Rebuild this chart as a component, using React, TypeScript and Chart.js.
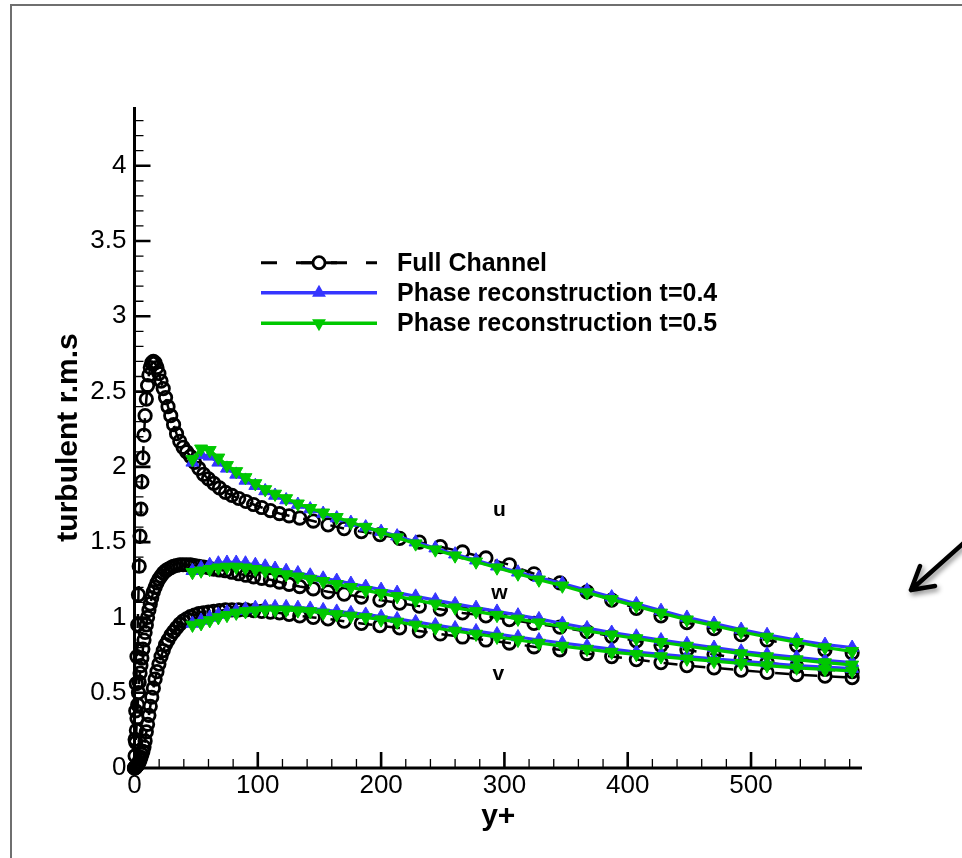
import React, { useEffect, useRef } from "react";
import { Chart, registerables } from "chart.js";

Chart.register(...registerables);

// ---------- data ----------
const FULL_YPLUS = [
  0, 0.5, 1, 1.5, 2, 2.6, 3.2, 3.8, 4.5, 5.2, 6, 6.8, 7.7, 8.6, 9.6, 10.6, 11.7, 12.8, 14, 15.3,
  16.7, 18.2, 19.8, 21.5, 23.3, 25.2, 27.2, 29.4, 31.7, 34.1, 36.7, 39.4, 42.3, 45.4, 48.7, 52.2,
  56, 60, 64.3, 68.9, 73.8, 79, 84.5, 90.4, 96.6, 103.2, 110.2, 117.6, 125.4, 134, 145, 157, 170,
  184, 199, 215, 231, 248, 266, 285, 304, 324, 345, 367, 387, 407, 427, 448, 470, 492, 513, 537,
  560, 582,
];
const FULL_U = [
  0, 0.19, 0.38, 0.56, 0.74, 0.95, 1.15, 1.34, 1.54, 1.72, 1.9, 2.06, 2.21, 2.34, 2.45, 2.54, 2.61,
  2.66, 2.69, 2.7, 2.69, 2.66, 2.62, 2.57, 2.52, 2.46, 2.4, 2.34, 2.28, 2.22, 2.17, 2.13, 2.1,
  2.07, 2.03, 1.99, 1.95, 1.92, 1.89, 1.86, 1.83, 1.81, 1.79, 1.77, 1.75, 1.73, 1.71, 1.69, 1.675,
  1.66, 1.64, 1.615, 1.59, 1.57, 1.55, 1.525, 1.5, 1.47, 1.435, 1.395, 1.35, 1.29, 1.23, 1.17,
  1.115, 1.06, 1.01, 0.965, 0.925, 0.885, 0.85, 0.815, 0.785, 0.765,
];
const FULL_W = [
  0, 0.08, 0.17, 0.25, 0.33, 0.42, 0.5, 0.57, 0.63, 0.68, 0.73, 0.79, 0.85, 0.9, 0.95, 1.0, 1.05,
  1.09, 1.13, 1.17, 1.2, 1.23, 1.255, 1.275, 1.295, 1.31, 1.32, 1.33, 1.34, 1.345, 1.35, 1.35,
  1.35, 1.35, 1.345, 1.34, 1.335, 1.33, 1.32, 1.315, 1.31, 1.3, 1.29, 1.28, 1.27, 1.26, 1.25,
  1.235, 1.22, 1.205, 1.19, 1.17, 1.155, 1.135, 1.115, 1.095, 1.075, 1.055, 1.03, 1.01, 0.985,
  0.96, 0.935, 0.905, 0.875, 0.845, 0.815, 0.785, 0.755, 0.725, 0.7, 0.675, 0.655, 0.64,
];
const FULL_V = [
  0, 0, 0.005, 0.01, 0.015, 0.02, 0.03, 0.04, 0.055, 0.07, 0.09, 0.11, 0.14, 0.18, 0.24, 0.29,
  0.35, 0.41, 0.47, 0.53, 0.59, 0.64, 0.69, 0.74, 0.78, 0.82, 0.85, 0.88, 0.905, 0.93, 0.955,
  0.975, 0.99, 1.005, 1.015, 1.025, 1.03, 1.035, 1.04, 1.045, 1.05, 1.05, 1.05, 1.05, 1.045,
  1.04, 1.035, 1.03, 1.02, 1.01, 1.0, 0.99, 0.975, 0.96, 0.945, 0.93, 0.91, 0.89, 0.87, 0.85,
  0.83, 0.805, 0.785, 0.76, 0.74, 0.72, 0.7, 0.68, 0.665, 0.65, 0.635, 0.62, 0.61, 0.6,
];

const PHASE_YPLUS = [
  47, 54, 61, 68, 75, 82.5, 90, 98, 106, 114, 123, 132.5, 142.5, 153, 164, 175.5, 187.5, 200, 213,
  228, 244, 260, 277, 294, 311, 328, 347, 367, 387, 407, 427, 448, 470, 492, 513, 537, 560, 582,
];
const T04_U = [
  2.03, 2.08, 2.07, 2.03, 1.99, 1.95, 1.91, 1.875, 1.84, 1.81, 1.78, 1.75, 1.72, 1.69, 1.66, 1.63,
  1.6, 1.57, 1.54, 1.5, 1.46, 1.42, 1.38, 1.34, 1.3, 1.265, 1.225, 1.18, 1.135, 1.09, 1.045, 1.0,
  0.96, 0.92, 0.885, 0.85, 0.82, 0.8,
];
const T04_W = [
  1.31, 1.33, 1.35, 1.36, 1.365, 1.365, 1.36, 1.35, 1.34, 1.325, 1.31, 1.295, 1.28, 1.26, 1.245,
  1.225, 1.205, 1.185, 1.165, 1.14, 1.115, 1.09, 1.065, 1.04, 1.015, 0.99, 0.96, 0.93, 0.9, 0.875,
  0.85, 0.825, 0.8, 0.775, 0.755, 0.735, 0.715, 0.7,
];
const T04_V = [
  0.96, 0.98, 1.0, 1.02, 1.035, 1.045, 1.055, 1.065, 1.07, 1.07, 1.07, 1.065, 1.06, 1.05, 1.04,
  1.03, 1.02, 1.005, 0.99, 0.97, 0.95, 0.93, 0.91, 0.89, 0.87, 0.85, 0.83, 0.81, 0.79, 0.77, 0.755,
  0.74, 0.725, 0.71, 0.695, 0.68, 0.67, 0.66,
];
const T05_U = [
  2.05, 2.12, 2.11, 2.06, 2.01, 1.97, 1.93, 1.89, 1.85, 1.82, 1.79, 1.755, 1.725, 1.695, 1.665,
  1.63, 1.6, 1.565, 1.53, 1.49, 1.45, 1.41, 1.37, 1.33, 1.29, 1.25, 1.21, 1.165, 1.12, 1.075, 1.03,
  0.985, 0.945, 0.905, 0.87, 0.835, 0.8, 0.775,
];
const T05_W = [
  1.3, 1.31, 1.32, 1.33, 1.335, 1.335, 1.33, 1.32, 1.31, 1.3, 1.285, 1.27, 1.255, 1.24, 1.22, 1.2,
  1.18, 1.16, 1.14, 1.115, 1.09, 1.065, 1.04, 1.015, 0.99, 0.965, 0.94, 0.91, 0.885, 0.86, 0.835,
  0.81, 0.785, 0.76, 0.74, 0.72, 0.7, 0.685,
];
const T05_V = [
  0.95, 0.96, 0.98, 1.0, 1.015, 1.03, 1.04, 1.045, 1.05, 1.05, 1.05, 1.045, 1.04, 1.03, 1.02, 1.01,
  1.0, 0.985, 0.97, 0.95, 0.93, 0.91, 0.89, 0.87, 0.85, 0.83, 0.81, 0.79, 0.77, 0.755, 0.74, 0.725,
  0.71, 0.695, 0.68, 0.665, 0.655, 0.645,
];

const SERIES_NAMES = ["Full Channel", "Phase reconstruction t=0.4", "Phase reconstruction t=0.5"];
const X_TICKS = [0, 100, 200, 300, 400, 500];
const Y_TICKS = [0, 0.5, 1, 1.5, 2, 2.5, 3, 3.5, 4];
const X_MIN = 0;
const X_MAX = 590;
const Y_MIN = 0;
const Y_MAX = 4.39;
const X_TITLE = "y+";
const Y_TITLE = "turbulent r.m.s";
const CURVE_NAMES = ["u", "w", "v"];
const CURVE_NAME_X = [296, 296, 295];
const CURVE_NAME_Y = [1.71, 1.16, 0.62];

// ---------- styles ----------
const FONT = '"Liberation Sans", Arial, Helvetica, sans-serif';
const BLACK = "#000000";
const BLUE = "#3535ff";
const GREEN = "#00c800";

const toPts = (xs: number[], ys: number[]) => xs.map((x, i) => ({ x, y: ys[i] }));

const fullStyle = {
  borderColor: BLACK,
  borderWidth: 2.5,
  borderDash: [14, 14],
  pointStyle: "circle",
  pointRadius: 6.2,
  pointBorderWidth: 2.8,
  pointBorderColor: BLACK,
  pointBackgroundColor: "rgba(0,0,0,0)",
  clip: false,
  order: 3,
};
const blueStyle = {
  borderColor: BLUE,
  borderWidth: 3.2,
  pointStyle: "triangle",
  pointRadius: 7.5,
  pointBorderWidth: 1,
  pointBorderColor: BLUE,
  pointBackgroundColor: BLUE,
  clip: false,
  order: 2,
};
const greenStyle = {
  borderColor: GREEN,
  borderWidth: 3.2,
  pointStyle: "triangle",
  pointRotation: 180,
  pointRadius: 7.5,
  pointBorderWidth: 1,
  pointBorderColor: GREEN,
  pointBackgroundColor: GREEN,
  clip: false,
  order: 1,
};

const decorPlugin = {
  id: "tecplotDecor",
  afterDatasetsDraw(chart: any) {
    const ctx = chart.ctx as CanvasRenderingContext2D;
    const xs = chart.scales.x;
    const ys = chart.scales.y;
    const x0 = xs.getPixelForValue(X_MIN);
    const x1 = xs.getPixelForValue(X_MAX);
    const y0 = ys.getPixelForValue(Y_MIN);
    const y1 = ys.getPixelForValue(Y_MAX);
    ctx.save();
    ctx.strokeStyle = BLACK;
    // minor ticks
    ctx.lineWidth = 1.3;
    ctx.beginPath();
    for (let i = 1; i * 20 <= X_MAX; i++) {
      if (i % 5 === 0) continue;
      const px = xs.getPixelForValue(i * 20);
      ctx.moveTo(px, y0);
      ctx.lineTo(px, y0 - 9);
    }
    for (let i = 1; i / 10 <= Y_MAX + 1e-9; i++) {
      if (i % 5 === 0) continue;
      const py = ys.getPixelForValue(i / 10);
      ctx.moveTo(x0, py);
      ctx.lineTo(x0 + 9, py);
    }
    ctx.stroke();
    // major ticks
    ctx.lineWidth = 2.6;
    ctx.beginPath();
    X_TICKS.forEach((v) => {
      if (v === X_MIN) return;
      const px = xs.getPixelForValue(v);
      ctx.moveTo(px, y0);
      ctx.lineTo(px, y0 - 16);
    });
    Y_TICKS.forEach((v) => {
      if (v === Y_MIN) return;
      const py = ys.getPixelForValue(v);
      ctx.moveTo(x0, py);
      ctx.lineTo(x0 + 16, py);
    });
    ctx.stroke();
    // axis lines
    ctx.lineWidth = 3;
    ctx.lineJoin = "miter";
    ctx.beginPath();
    ctx.moveTo(x0, y1);
    ctx.lineTo(x0, y0);
    ctx.lineTo(x1, y0);
    ctx.stroke();

    // curve names
    ctx.fillStyle = BLACK;
    ctx.font = `bold 21px ${FONT}`;
    ctx.textAlign = "center";
    ctx.textBaseline = "middle";
    CURVE_NAMES.forEach((t, i) => {
      ctx.fillText(t, xs.getPixelForValue(CURVE_NAME_X[i]), ys.getPixelForValue(CURVE_NAME_Y[i]));
    });
    ctx.restore();
  },
  afterDraw(chart: any) {
    const ctx = chart.ctx as CanvasRenderingContext2D;
    ctx.save();
    // legend
    const rows = [262.7, 292.7, 323.3];
    const lx0 = 261;
    const lx1 = 377;
    const mx = 319;
    const styles = [fullStyle, blueStyle, greenStyle];
    rows.forEach((ry, i) => {
      const st: any = styles[i];
      ctx.strokeStyle = st.borderColor;
      ctx.lineWidth = i === 0 ? 3 : 3.4;
      ctx.setLineDash(i === 0 ? [16, 19] : []);
      ctx.beginPath();
      ctx.moveTo(lx0, ry);
      ctx.lineTo(lx1, ry);
      ctx.stroke();
      ctx.setLineDash([]);
      if (i === 0) {
        ctx.beginPath();
        ctx.moveTo(mx - 18, ry);
        ctx.lineTo(mx + 18, ry);
        ctx.stroke();
        ctx.beginPath();
        ctx.arc(mx, ry, 6, 0, Math.PI * 2);
        ctx.fillStyle = "#ffffff";
        ctx.fill();
        ctx.lineWidth = 2.8;
        ctx.stroke();
      } else {
        const r = 8;
        const dir = i === 1 ? -1 : 1;
        ctx.fillStyle = st.borderColor;
        ctx.beginPath();
        ctx.moveTo(mx, ry + dir * r);
        ctx.lineTo(mx - r * 0.866, ry - dir * r * 0.5);
        ctx.lineTo(mx + r * 0.866, ry - dir * r * 0.5);
        ctx.closePath();
        ctx.fill();
      }
      ctx.fillStyle = BLACK;
      ctx.font = `bold 25px ${FONT}`;
      ctx.textAlign = "left";
      ctx.textBaseline = "middle";
      ctx.fillText(SERIES_NAMES[i], 397, ry + 1);
    });

    // arrow with drop shadow
    ctx.shadowColor = "rgba(0,0,0,0.45)";
    ctx.shadowBlur = 5;
    ctx.shadowOffsetX = 2;
    ctx.shadowOffsetY = 3;
    ctx.strokeStyle = BLACK;
    ctx.lineWidth = 4.5;
    ctx.lineCap = "round";
    ctx.lineJoin = "round";
    ctx.beginPath();
    ctx.moveTo(966, 541);
    ctx.lineTo(911, 590);
    ctx.moveTo(920, 566);
    ctx.lineTo(911, 590);
    ctx.lineTo(935, 586);
    ctx.stroke();
    ctx.restore();
  },
};

export default function App() {
  const canvasRef = useRef<HTMLCanvasElement | null>(null);

  useEffect(() => {
    const canvas = canvasRef.current;
    if (!canvas) return;
    const datasets: any[] = [
      { label: "u full", data: toPts(FULL_YPLUS, FULL_U), ...fullStyle },
      { label: "w full", data: toPts(FULL_YPLUS, FULL_W), ...fullStyle },
      { label: "v full", data: toPts(FULL_YPLUS, FULL_V), ...fullStyle },
      { label: "u t=0.4", data: toPts(PHASE_YPLUS, T04_U), ...blueStyle },
      { label: "w t=0.4", data: toPts(PHASE_YPLUS, T04_W), ...blueStyle },
      { label: "v t=0.4", data: toPts(PHASE_YPLUS, T04_V), ...blueStyle },
      { label: "u t=0.5", data: toPts(PHASE_YPLUS, T05_U), ...greenStyle },
      { label: "w t=0.5", data: toPts(PHASE_YPLUS, T05_W), ...greenStyle },
      { label: "v t=0.5", data: toPts(PHASE_YPLUS, T05_V), ...greenStyle },
    ];
    const chart = new Chart(canvas, {
      type: "line",
      data: { datasets },
      options: {
        responsive: false,
        animation: false,
        devicePixelRatio: 1,
        events: [],
        layout: { padding: { left: 0, right: 100, top: 107, bottom: 0 } },
        elements: { line: { tension: 0 } },
        plugins: { legend: { display: false }, tooltip: { enabled: false } },
        scales: {
          x: {
            type: "linear",
            min: X_MIN,
            max: X_MAX,
            grid: { display: false, drawTicks: false },
            border: { display: false },
            afterBuildTicks: (s: any) => {
              s.ticks = X_TICKS.map((v) => ({ value: v }));
            },
            afterFit: (s: any) => {
              s.height = 90;
            },
            ticks: {
              color: BLACK,
              font: { family: FONT, size: 26 },
              padding: 2,
              autoSkip: false,
              maxRotation: 0,
              callback: (v: any) => String(v),
            },
            title: {
              display: true,
              text: X_TITLE,
              color: BLACK,
              font: { family: FONT, size: 30, weight: "bold" },
              padding: { top: 0, bottom: 23 },
            },
          },
          y: {
            type: "linear",
            min: Y_MIN,
            max: Y_MAX,
            grid: { display: false, drawTicks: false },
            border: { display: false },
            afterBuildTicks: (s: any) => {
              s.ticks = Y_TICKS.map((v) => ({ value: v }));
            },
            afterFit: (s: any) => {
              s.width = 134.5;
            },
            ticks: {
              color: BLACK,
              font: { family: FONT, size: 26 },
              padding: 8,
              autoSkip: false,
              callback: (v: any) => String(v),
            },
            title: {
              display: true,
              text: Y_TITLE,
              color: BLACK,
              font: { family: FONT, size: 30, weight: "bold" },
              padding: { top: 51, bottom: 0 },
            },
          },
        },
      },
      plugins: [decorPlugin],
    } as any);
    return () => chart.destroy();
  }, []);

  return (
    <div
      style={{
        position: "fixed",
        left: 0,
        top: 0,
        width: 962,
        height: 858,
        background: "#ffffff",
        overflow: "hidden",
      }}
    >
      <div
        style={{
          position: "absolute",
          left: 10,
          top: 4,
          width: 2000,
          height: 2000,
          borderLeft: "2px solid #6f6f6f",
          borderTop: "2px solid #6f6f6f",
        }}
      />
      <canvas
        ref={canvasRef}
        width={962}
        height={858}
        style={{ position: "absolute", left: 0, top: 0 }}
      />
    </div>
  );
}
